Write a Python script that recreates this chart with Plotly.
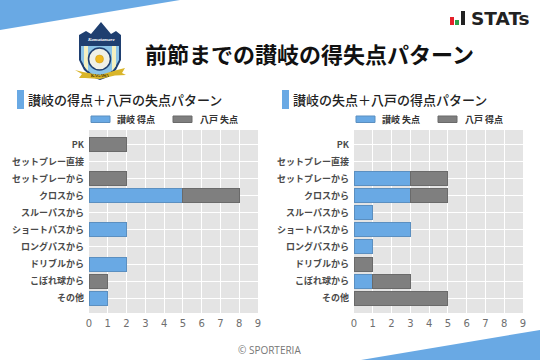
import plotly.graph_objects as go

W, H = 540, 360
categories = ["PK", "セットプレー直接", "セットプレーから", "クロスから", "スルーパスから",
              "ショートパスから", "ロングパスから", "ドリブルから", "こぼれ球から", "その他"]
left_sanuki_for = [0, 0, 0, 5, 0, 2, 0, 2, 0, 1]
left_hachinohe_against = [2, 0, 2, 3, 0, 0, 0, 0, 1, 0]
right_sanuki_against = [0, 0, 3, 3, 1, 3, 1, 0, 1, 0]
right_hachinohe_for = [0, 0, 2, 2, 0, 0, 0, 1, 2, 5]
x_ticks = list(range(10))

BLUE, BLUE_E = "#69A9E4", "#5B8FC0"
GREY, GREY_E = "#7F7F7F", "#6A6A6A"
JP = "Noto Sans CJK JP"

fig = go.Figure()


def add_pair(a, b, name_a, name_b, xa, ya):
    for vals, name, c, e in ((a, name_a, BLUE, BLUE_E), (b, name_b, GREY, GREY_E)):
        fig.add_trace(go.Bar(y=categories, x=vals, name=name, orientation="h", width=0.82,
                             marker=dict(color=c, line=dict(color=e, width=[1 if v else 0 for v in vals])),
                             xaxis=xa, yaxis=ya, showlegend=False))


add_pair(left_sanuki_for, left_hachinohe_against, "讃岐 得点", "八戸 失点", "x", "y")
add_pair(right_sanuki_against, right_hachinohe_for, "讃岐 失点", "八戸 得点", "x2", "y2")

xax = dict(range=[0, 9], tickvals=x_ticks, showgrid=True, gridcolor="#FFFFFF", gridwidth=1.2,
           zeroline=False, showline=False, ticks="", ticklen=0, automargin=False,
           ticklabelstandoff=3,
           tickfont=dict(family="DejaVu Sans", size=10, color="#6E6E6E"))
yax = dict(type="category", categoryorder="array", categoryarray=categories,
           range=[9.87, -0.85], showgrid=True, gridcolor="#FFFFFF", gridwidth=1.2,
           zeroline=False, showline=False, ticks="", ticklen=0, automargin=False,
           ticklabelstandoff=4,
           tickfont=dict(family=JP, size=9, color="#4A4A4A", weight=700))


def px(x):
    return x / W


def py(y):
    return 1 - y / H


shapes = []


def poly(pts, fill, line=None, lw=0):
    d = "M" + "L".join(f"{px(x):.5f},{py(y):.5f}" for x, y in pts) + "Z"
    shapes.append(dict(type="path", path=d, xref="paper", yref="paper", fillcolor=fill,
                       line=dict(color=line or fill, width=lw), layer="above"))


def rect(x0, y0, x1, y1, fill, line=None, lw=0):
    shapes.append(dict(type="rect", xref="paper", yref="paper", x0=px(x0), x1=px(x1),
                       y0=py(y0), y1=py(y1), fillcolor=fill,
                       line=dict(color=line or fill, width=lw), layer="above"))


def circle(cx, cy, r, fill, line=None, lw=0):
    shapes.append(dict(type="circle", xref="paper", yref="paper", x0=px(cx - r), x1=px(cx + r),
                       y0=py(cy - r), y1=py(cy + r), fillcolor=fill,
                       line=dict(color=line or fill, width=lw), layer="above"))


annots = []


def text(x, y, s, size, color, family=JP, anchor="left", weight=400, italic=False):
    annots.append(dict(x=px(x), y=py(y), xref="paper", yref="paper", text=s, showarrow=False,
                       xanchor=anchor, yanchor="middle", borderpad=0, borderwidth=0,
                       font=dict(family=family, size=size, color=color, weight=weight,
                                 style="italic" if italic else "normal")))


# corner wedges
poly([(0, 0), (180, 0), (0, 30)], BLUE)
poly([(540, 330), (540, 360), (361, 360)], BLUE)

# crest
poly([(79, 35), (86, 31), (91, 34), (101, 22), (111, 34), (116, 31), (121, 35), (121, 60),
      (116, 70), (108, 77), (100, 80), (92, 77), (84, 70), (79, 60)], "#1F3F70")
poly([(81, 46), (119, 46), (119, 60), (114, 69), (107, 75), (100, 78), (93, 75), (86, 69), (81, 60)], "#8CC4E8")
poly([(84, 46), (88, 46), (88, 71), (84, 66)], "#F4F0C0")
poly([(112, 46), (116, 46), (116, 66), (112, 71)], "#F4F0C0")
circle(99.5, 59, 11, "#F0F0E6", "#1F3F70", 1.5)
circle(99.5, 59, 4, "#F2B81E", "#C99A12", 0.5)
poly([(75, 70), (83, 72), (100, 75), (117, 70), (125, 68), (122, 73), (126, 75), (115, 75.5),
      (100, 79), (85, 78), (79, 78), (82, 74)], "#D9B52A")
text(101, 39, "Kamatamare", 5, "#FFFFFF", "Liberation Serif", "center", 700, True)
text(100, 75.5, "KAGAWA", 4, "#3A2E00", "Liberation Serif", "center", 700)

# STATs logo
rect(450, 17, 454, 25, "#E5202A")
rect(455, 20, 459, 25, "#2CA04A")
rect(461, 11, 465, 25, "#222222")
text(471, 18, "STATs", 18.5, "#222222", "DejaVu Sans", "left", 700)

# titles
text(145, 53, "前節までの讃岐の得失点パターン", 22, "#111111", JP, "left", 700)
rect(17, 90, 24, 109, BLUE)
text(28, 99.5, "讃岐の得点＋八戸の失点パターン", 13, "#222222", JP, "left", 500)
rect(282, 90, 289, 109, BLUE)
text(293, 99.5, "讃岐の失点＋八戸の得点パターン", 13, "#222222", JP, "left", 500)

# legends
for x0, x1, tx, name, col, edge in (
    (91, 110, 117, fig.data[0].name, BLUE, BLUE_E),
    (173, 192, 200, fig.data[1].name, GREY, GREY_E),
    (356, 375, 382, fig.data[2].name, BLUE, BLUE_E),
    (438, 457, 465, fig.data[3].name, GREY, GREY_E),
):
    rect(x0, 116, x1, 122.5, col, edge, 1)
    text(tx, 119.5, name, 9, "#333333", JP, "left", 700)

text(269, 350, "© SPORTERIA", 10, "#777777", "Open Sans", "center")

fig.update_layout(
    width=W, height=H, autosize=False, margin=dict(l=0, r=0, t=0, b=0, autoexpand=False),
    paper_bgcolor="#FFFFFF", plot_bgcolor="#E4E4E4", barmode="stack", showlegend=False,
    xaxis=dict(domain=[px(89), px(258)], anchor="y", **xax),
    yaxis=dict(domain=[py(313), py(130)], anchor="x", **yax),
    xaxis2=dict(domain=[px(354), px(523)], anchor="y2", **xax),
    yaxis2=dict(domain=[py(313), py(130)], anchor="x2", **yax),
    shapes=shapes, annotations=annots,
)
fig.write_html("out.html", config={"displayModeBar": False},
               post_script="document.body.style.margin='0';document.body.style.overflow='hidden';")
